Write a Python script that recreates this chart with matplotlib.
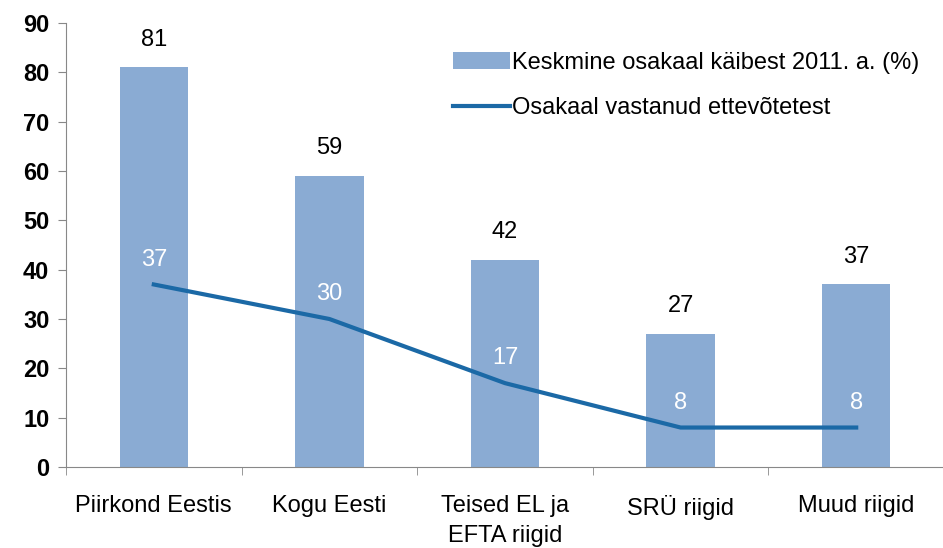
import matplotlib.pyplot as plt
import numpy as np

categories = ["Piirkond Eestis", "Kogu Eesti", "Teised EL ja\nEFTA riigid", "SRÜ riigid", "Muud riigid"]
turnover_share = [81, 59, 42, 27, 37]   # Keskmine osakaal käibest 2011. a. (%)
firms_share = [37, 30, 17, 8, 8]        # Osakaal vastanud ettevõtetest

plt.rcParams['font.family'] = ['Liberation Sans', 'DejaVu Sans']
bar_color = '#8AABD3'
line_color = '#1B69A6'
fs = 17

fig = plt.figure(figsize=(9.43, 5.48), dpi=100)
ax = fig.add_axes([66 / 943, 1 - 467 / 548, 878 / 943, 444 / 548])

x = np.arange(len(categories))
bars = ax.bar(x, turnover_share, width=0.39, color=bar_color, zorder=2,
              label="Keskmine osakaal käibest 2011. a. (%)")
line, = ax.plot(x, firms_share, color=line_color, lw=3, zorder=3,
                label="Osakaal vastanud ettevõtetest")

for xi, v in zip(x, turnover_share):
    ax.annotate(str(v), (xi, v), xytext=(0, 12), textcoords='offset points',
                ha='center', va='bottom', fontsize=fs, color='black')
for xi, v in zip(x, firms_share):
    ax.annotate(str(v), (xi, v), xytext=(0, 10), textcoords='offset points',
                ha='center', va='bottom', fontsize=fs, color='white')

ax.set_xlim(-0.5, len(categories) - 0.5)
ax.set_ylim(0, 90)
ax.set_yticks(range(0, 91, 10))
ax.set_xticks(x)
ax.set_xticklabels(categories, fontsize=fs, linespacing=1.5)
ax.set_xticks(np.arange(-0.5, len(categories), 1), minor=True)
ax.tick_params(axis='x', which='major', length=0, pad=20)
ax.tick_params(axis='x', which='minor', length=6, color='#888888')
ax.tick_params(axis='y', length=6, color='#888888', labelsize=fs, pad=6)
for lbl in ax.get_yticklabels():
    lbl.set_fontweight('bold')

for side in ['top', 'right']:
    ax.spines[side].set_visible(False)
for side in ['left', 'bottom']:
    ax.spines[side].set_color('#888888')

ax.legend([bars, line], [bars.get_label(), line.get_label()],
          loc='upper left', bbox_to_anchor=(0.441, 0.935), frameon=False, fontsize=fs,
          handlelength=2.4, handletextpad=0.1, labelspacing=1.0,
          borderpad=0, borderaxespad=0)

fig.savefig('out.png', dpi=100)
